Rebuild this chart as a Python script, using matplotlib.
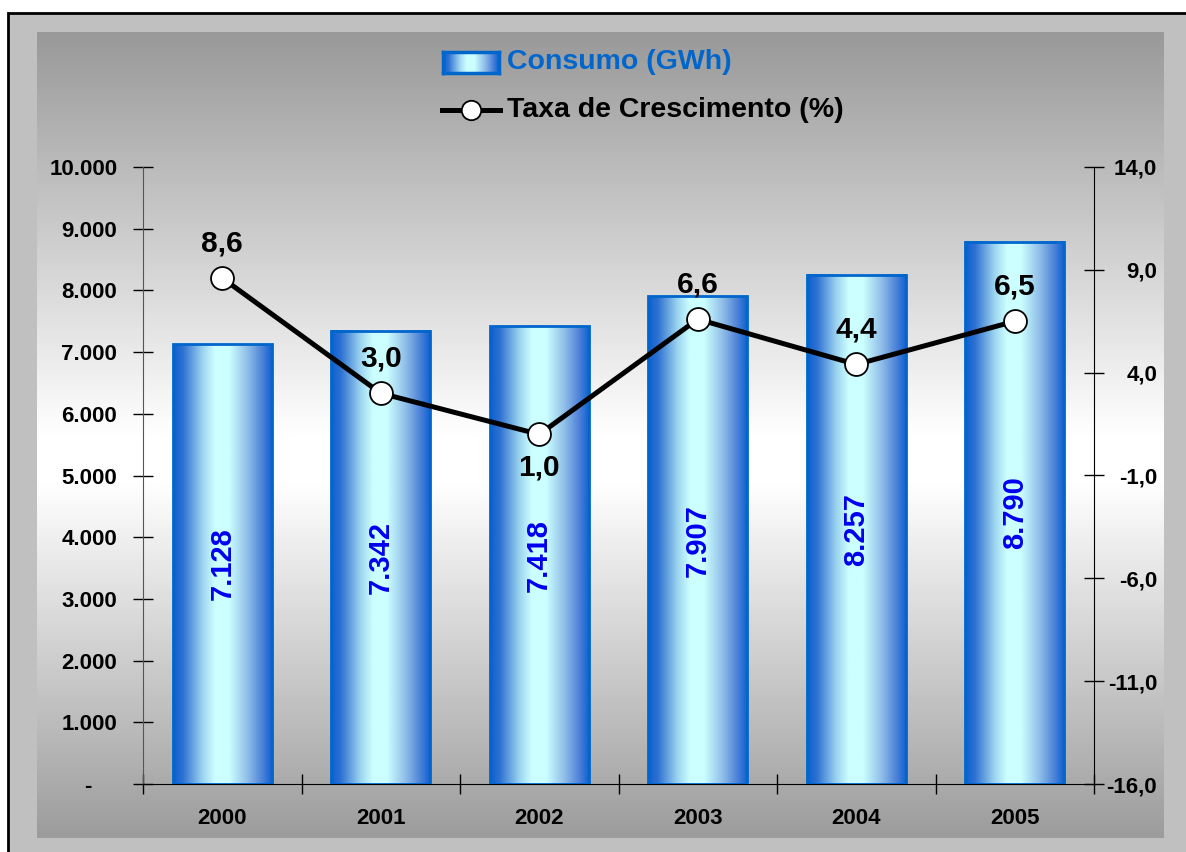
import numpy as np
import matplotlib.pyplot as plt
from matplotlib.colors import LinearSegmentedColormap
from matplotlib.patches import Rectangle
from matplotlib.lines import Line2D

plt.rcParams['font.family'] = ['Liberation Sans', 'DejaVu Sans']
plt.rcParams['font.weight'] = 'bold'

anos = ['2000', '2001', '2002', '2003', '2004', '2005']
consumo = [7128, 7342, 7418, 7907, 8257, 8790]          # GWh
crescimento = [8.6, 3.0, 1.0, 6.6, 4.4, 6.5]           # %

W, H = 1186, 852
fig = plt.figure(figsize=(W / 100, H / 100), dpi=100)
fig.patch.set_facecolor('white')

def px(x0, y0, x1, y1):
    # pixel box (from top-left) -> figure fraction rect
    return [x0 / W, 1 - y1 / H, (x1 - x0) / W, (y1 - y0) / H]

# outer frame (runs past the right and bottom edges)
fig.patches.append(Rectangle((8 / W, -0.02), 1.05 - 8 / W, 1.02 - 13 / H,
                             transform=fig.transFigure, facecolor='#c0c0c0',
                             edgecolor='black', lw=2, zorder=-5))

# vertical gradient behind the plot
bg_cmap = LinearSegmentedColormap.from_list(
    'bg', [(0, '#999999'), (0.5, '#ffffff'), (0.56, '#ffffff'), (1, '#9c9c9c')])
bg = fig.add_axes(px(37, 32, 1164, 838))
bg.imshow(np.linspace(0, 1, 256).reshape(-1, 1), cmap=bg_cmap, aspect='auto')
bg.set_axis_off()

bar_cmap = LinearSegmentedColormap.from_list(
    'bar', [(0, '#0a5fd0'), (0.1, '#2f72d2'), (0.3, '#9fd6f0'), (0.42, '#ccffff'),
            (0.56, '#ccffff'), (0.75, '#8fbde8'), (0.9, '#4a80d8'), (1, '#0a5fd0')])
hgrad = np.linspace(0, 1, 256).reshape(1, -1)

ax = fig.add_axes(px(143, 167, 1094, 784))
ax.patch.set_alpha(0)
x = np.arange(len(anos))
bw = 0.625
for xi, v in zip(x, consumo):
    ax.imshow(hgrad, cmap=bar_cmap, aspect='auto', zorder=2,
              extent=[xi - bw / 2, xi + bw / 2, 0, v])
    ax.text(xi, v / 2, f'{v:,}'.replace(',', '.'), rotation=90, ha='center',
            va='center', fontsize=21, color='#0000f0', zorder=4)
ax.bar(x, consumo, width=bw, fill=False, edgecolor='#0066cc', lw=2, zorder=3)

ax.set_xlim(-0.5, len(anos) - 0.5)
ax.set_ylim(0, 10000)
ax.set_yticks(np.arange(0, 10001, 1000))
ax.set_yticklabels(['-    '] + [f'{v:,}'.replace(',', '.') for v in range(1000, 10001, 1000)])
ax.set_xticks(x)
ax.set_xticklabels(anos)
ax.set_xticks(np.arange(-0.5, len(anos)), minor=True)
ax.tick_params(axis='x', which='major', length=0, pad=17, labelsize=16)
ax.tick_params(axis='x', which='minor', direction='inout', length=15, width=1)
ax.tick_params(axis='y', direction='inout', length=15, width=1, pad=11, labelsize=16)
ax.spines['top'].set_visible(False)
ax.spines['right'].set_visible(False)
ax.spines['left'].set_color('#555555')

ax2 = ax.twinx()
ax2.set_ylim(-16, 14)
ax2.set_yticks(np.arange(-16, 14.1, 5))
ax2.set_yticklabels([f'{v:.1f}'.replace('.', ',') for v in np.arange(-16, 14.1, 5)],
                    ha='right')
ax2.tick_params(axis='y', direction='inout', length=15, width=1, pad=38, labelsize=16)
for s in ['top', 'left', 'bottom']:
    ax2.spines[s].set_visible(False)
ax2.plot(x, crescimento, color='black', lw=3.6, marker='o', ms=16.5,
         mfc='white', mec='black', mew=1.3, zorder=5)
low = int(np.argmin(crescimento))
for i, v in enumerate(crescimento):
    dy = -24 if i == low else 25
    ax2.annotate(f'{v:.1f}'.replace('.', ','), (x[i], v), xytext=(0, dy),
                 textcoords='offset points', ha='center', va='center', fontsize=21.5)

# legend
sw = fig.add_axes(px(443, 52, 499, 73))
sw.imshow(hgrad, cmap=bar_cmap, aspect='auto')
sw.set_xticks([])
sw.set_yticks([])
for s in sw.spines.values():
    s.set_color('#0066cc')
    s.set_linewidth(2.5)
fig.text(507 / W, 1 - 62 / H, 'Consumo (GWh)', color='#0066cc', fontsize=20.5,
         va='center', ha='left')
fig.lines.append(Line2D([442 / W, 500 / W], [1 - 110 / H, 1 - 110 / H],
                        transform=fig.transFigure, color='black', lw=3.6))
fig.lines.append(Line2D([471 / W], [1 - 110 / H], transform=fig.transFigure,
                        marker='o', ms=14, mfc='white', mec='black', mew=1.3))
fig.text(507 / W, 1 - 110 / H, 'Taxa de Crescimento (%)', color='black',
         fontsize=20.5, va='center', ha='left')

fig.savefig('out.png', dpi=100)
